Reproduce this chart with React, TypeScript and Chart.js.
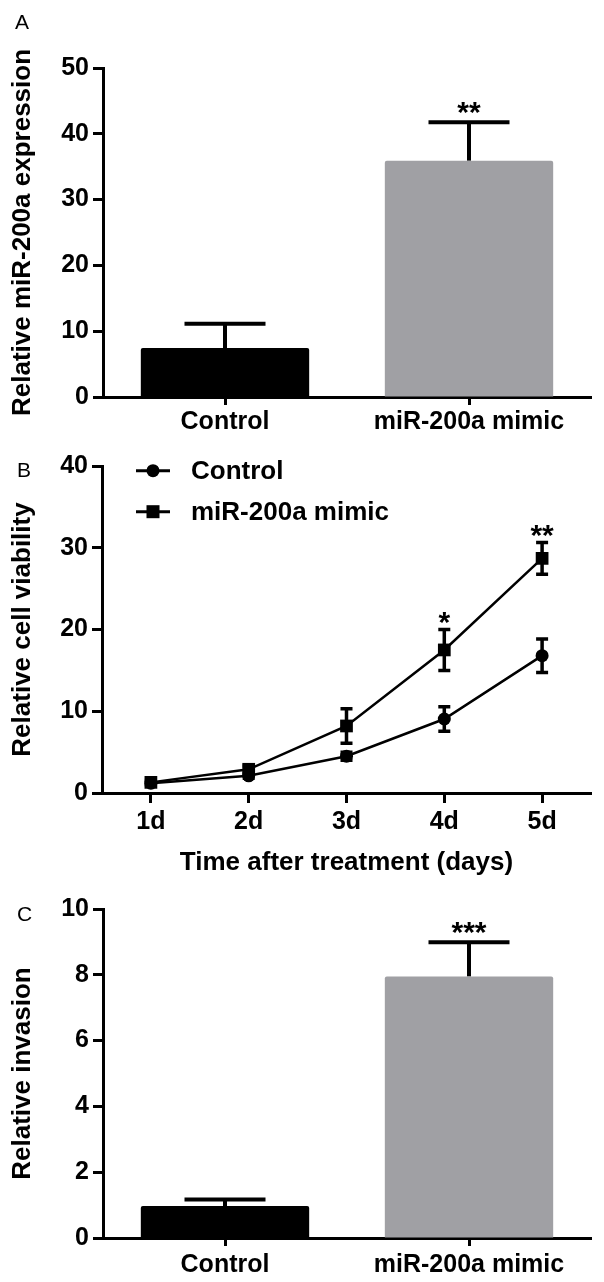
import React, { useEffect, useRef } from 'react';
import { Chart, registerables } from 'chart.js';

Chart.register(...registerables);

const FONT = "'Liberation Sans', Arial, Helvetica, sans-serif";
const INK = '#000000';

// ---------- Panel A : relative miR-200a expression ----------
const barCategories = ['Control', 'miR-200a mimic'];
const barColors = ['#000000', '#a0a0a4'];
const expressionValues = [7.45, 35.9];
const expressionErrors = [3.7, 5.85];
const expressionStars = ['', '**'];
const expressionTitle = 'Relative miR-200a expression';
const expressionMax = 50;
const expressionStep = 10;

// ---------- Panel B : relative cell viability ----------
const dayLabels = ['1d', '2d', '3d', '4d', '5d'];
const seriesNames = ['Control', 'miR-200a mimic'];
const controlViability = [1.2, 2.1, 4.5, 9.05, 16.8];
const controlViabilityErr = [0.25, 0.3, 0.5, 1.5, 2.05];
const mimicViability = [1.3, 2.9, 8.2, 17.5, 28.7];
const mimicViabilityErr = [0.25, 0.4, 2.1, 2.5, 1.95];
const mimicStars = ['', '', '', '*', '**'];
const viabilityTitle = 'Relative cell viability';
const timeTitle = 'Time after treatment (days)';
const viabilityMax = 40;
const viabilityStep = 10;

// ---------- Panel C : relative invasion ----------
const invasionValues = [0.97, 7.95];
const invasionErrors = [0.2, 1.04];
const invasionStars = ['', '***'];
const invasionTitle = 'Relative invasion';
const invasionMax = 10;
const invasionStep = 2;

type ErrSet = {
  dataset: number;
  errors: number[];
  both: boolean;
  cap: number;
  width: number;
  stars: string[];
  starGap: number;
};

const STAR_SIZE = 30;

function makeErrorPlugin(sets: ErrSet[]) {
  return {
    id: 'errorBars',
    beforeDatasetsDraw(chart: any) {
      const { ctx } = chart;
      const y = chart.scales.y;
      sets.forEach((set) => {
        const meta = chart.getDatasetMeta(set.dataset);
        const data = chart.data.datasets[set.dataset].data as number[];
        meta.data.forEach((el: any, i: number) => {
          const v = data[i];
          const e = set.errors[i];
          const x = el.x;
          const yTop = y.getPixelForValue(v + e);
          const yBot = y.getPixelForValue(set.both ? v - e : v);
          ctx.save();
          ctx.strokeStyle = INK;
          ctx.lineWidth = set.width;
          ctx.lineCap = 'butt';
          ctx.beginPath();
          ctx.moveTo(x, yBot);
          ctx.lineTo(x, yTop);
          ctx.moveTo(x - set.cap / 2, yTop);
          ctx.lineTo(x + set.cap / 2, yTop);
          if (set.both) {
            ctx.moveTo(x - set.cap / 2, yBot);
            ctx.lineTo(x + set.cap / 2, yBot);
          }
          ctx.stroke();
          ctx.restore();
        });
      });
    },
    afterDatasetsDraw(chart: any) {
      const { ctx } = chart;
      const y = chart.scales.y;
      sets.forEach((set) => {
        const meta = chart.getDatasetMeta(set.dataset);
        const data = chart.data.datasets[set.dataset].data as number[];
        meta.data.forEach((el: any, i: number) => {
          const star = set.stars[i];
          if (!star) return;
          const yTop = y.getPixelForValue(data[i] + set.errors[i]);
          const cy = yTop - set.starGap;
          ctx.save();
          ctx.fillStyle = INK;
          ctx.font = `bold ${STAR_SIZE}px ${FONT}`;
          ctx.textAlign = 'center';
          ctx.textBaseline = 'alphabetic';
          ctx.fillText(star, el.x, cy + 0.58 * STAR_SIZE);
          ctx.restore();
        });
      });
    },
  };
}

const lineLegendPlugin = {
  id: 'lineLegend',
  afterDraw(chart: any) {
    const { ctx } = chart;
    const x0 = 136;
    const x1 = 170;
    const xm = (x0 + x1) / 2;
    const rows = [30.7, 71.7];
    chart.data.datasets.forEach((ds: any, i: number) => {
      const y = rows[i];
      ctx.save();
      ctx.strokeStyle = INK;
      ctx.fillStyle = INK;
      ctx.lineWidth = 3;
      ctx.beginPath();
      ctx.moveTo(x0, y);
      ctx.lineTo(x1, y);
      ctx.stroke();
      if (ds.pointStyle === 'rect') {
        const s = 13;
        ctx.fillRect(xm - s / 2, y - s / 2, s, s);
      } else {
        ctx.beginPath();
        ctx.arc(xm, y, 6.5, 0, Math.PI * 2);
        ctx.fill();
      }
      ctx.font = `bold 26px ${FONT}`;
      ctx.textAlign = 'left';
      ctx.textBaseline = 'middle';
      ctx.fillText(ds.label, 191, y + 1);
      ctx.restore();
    });
  },
};

function yLinear(max: number, step: number, title: string, width: number) {
  return {
    type: 'linear',
    min: 0,
    max,
    ticks: {
      stepSize: step,
      color: INK,
      font: { family: FONT, size: 25, weight: 'bold' },
      padding: 4,
    },
    grid: {
      drawOnChartArea: false,
      drawTicks: true,
      tickLength: 10,
      tickWidth: 3,
      tickColor: INK,
    },
    border: { display: true, color: INK, width: 3 },
    title: {
      display: true,
      text: title,
      color: INK,
      font: { family: FONT, size: 26, weight: 'bold' },
      padding: { top: 7, bottom: 0 },
    },
    afterFit: (s: any) => {
      s.width = width;
    },
  };
}

function xCategory(height: number, tickLen: number, pad: number, title?: string) {
  return {
    type: 'category',
    offset: true,
    z: 1,
    ticks: {
      color: INK,
      font: { family: FONT, size: 25, weight: 'bold' },
      padding: pad,
      autoSkip: false,
      maxRotation: 0,
      minRotation: 0,
    },
    grid: {
      offset: false,
      drawOnChartArea: false,
      drawTicks: true,
      tickLength: tickLen,
      tickWidth: 3,
      tickColor: INK,
    },
    border: { display: true, color: INK, width: 3 },
    title: title
      ? {
          display: true,
          text: title,
          color: INK,
          font: { family: FONT, size: 26, weight: 'bold' },
          padding: { top: 0, bottom: 12 },
        }
      : { display: false },
    afterFit: (s: any) => {
      s.height = height;
    },
  };
}

function buildBarConfig(
  values: number[],
  errors: number[],
  stars: string[],
  title: string,
  max: number,
  step: number,
  padTop: number,
  xHeight: number,
  labelPad: number,
): any {
  return {
    type: 'bar',
    data: {
      labels: barCategories,
      datasets: [
        {
          data: values,
          backgroundColor: barColors,
          borderWidth: 0,
          borderRadius: 2,
          borderSkipped: 'bottom',
          barPercentage: 0.69,
          categoryPercentage: 1,
        },
      ],
    },
    options: {
      responsive: false,
      animation: false,
      devicePixelRatio: 1,
      layout: { padding: { top: padTop, right: 13, left: 0, bottom: 0 } },
      plugins: { legend: { display: false }, tooltip: { enabled: false } },
      scales: {
        x: xCategory(xHeight, 8, labelPad),
        y: yLinear(max, step, title, 103),
      },
    },
    plugins: [
      makeErrorPlugin([
        { dataset: 0, errors, both: false, cap: 81, width: 4, stars, starGap: 18 },
      ]),
    ],
  };
}

const buildA = () =>
  buildBarConfig(
    expressionValues,
    expressionErrors,
    expressionStars,
    expressionTitle,
    expressionMax,
    expressionStep,
    68,
    43,
    2,
  );

const buildC = () =>
  buildBarConfig(
    invasionValues,
    invasionErrors,
    invasionStars,
    invasionTitle,
    invasionMax,
    invasionStep,
    18,
    44,
    4,
  );

const buildB = (): any => ({
  type: 'line',
  data: {
    labels: dayLabels,
    datasets: [
      {
        label: seriesNames[0],
        data: controlViability,
        borderColor: INK,
        backgroundColor: INK,
        borderWidth: 2.5,
        tension: 0,
        pointStyle: 'circle',
        pointRadius: 6.5,
        pointBorderWidth: 0,
        pointBackgroundColor: INK,
      },
      {
        label: seriesNames[1],
        data: mimicViability,
        borderColor: INK,
        backgroundColor: INK,
        borderWidth: 2.5,
        tension: 0,
        pointStyle: 'rect',
        pointRadius: 9,
        pointBorderWidth: 0,
        pointBackgroundColor: INK,
      },
    ],
  },
  options: {
    responsive: false,
    animation: false,
    devicePixelRatio: 1,
    layout: { padding: { top: 26, right: 13, left: 0, bottom: 0 } },
    plugins: { legend: { display: false }, tooltip: { enabled: false } },
    scales: {
      x: xCategory(97, 10, 4, timeTitle),
      y: yLinear(viabilityMax, viabilityStep, viabilityTitle, 102),
    },
  },
  plugins: [
    makeErrorPlugin([
      { dataset: 0, errors: controlViabilityErr, both: true, cap: 12, width: 3.5, stars: [], starGap: 15 },
      { dataset: 1, errors: mimicViabilityErr, both: true, cap: 12, width: 3.5, stars: mimicStars, starGap: 15 },
    ]),
    lineLegendPlugin,
  ],
});

function Panel({ top, height, build }: { top: number; height: number; build: () => any }) {
  const ref = useRef<HTMLCanvasElement | null>(null);
  useEffect(() => {
    if (!ref.current) return;
    const chart = new Chart(ref.current, build());
    return () => chart.destroy();
  }, [build]);
  return (
    <canvas
      ref={ref}
      width={604}
      height={height}
      style={{ position: 'absolute', left: 0, top, width: 604, height, display: 'block' }}
    />
  );
}

const letterStyle = (left: number, top: number): React.CSSProperties => ({
  position: 'absolute',
  left,
  top,
  font: `21px ${FONT}`,
  lineHeight: '24px',
  color: INK,
});

export default function App() {
  return (
    <div style={{ position: 'absolute', left: 0, top: 0, width: 604, height: 1282, background: '#fff' }}>
      <Panel top={0} height={440} build={buildA} />
      <Panel top={440} height={450} build={buildB} />
      <Panel top={890} height={392} build={buildC} />
      <div style={letterStyle(15, 10)}>A</div>
      <div style={letterStyle(17, 458)}>B</div>
      <div style={letterStyle(17, 902)}>C</div>
    </div>
  );
}
